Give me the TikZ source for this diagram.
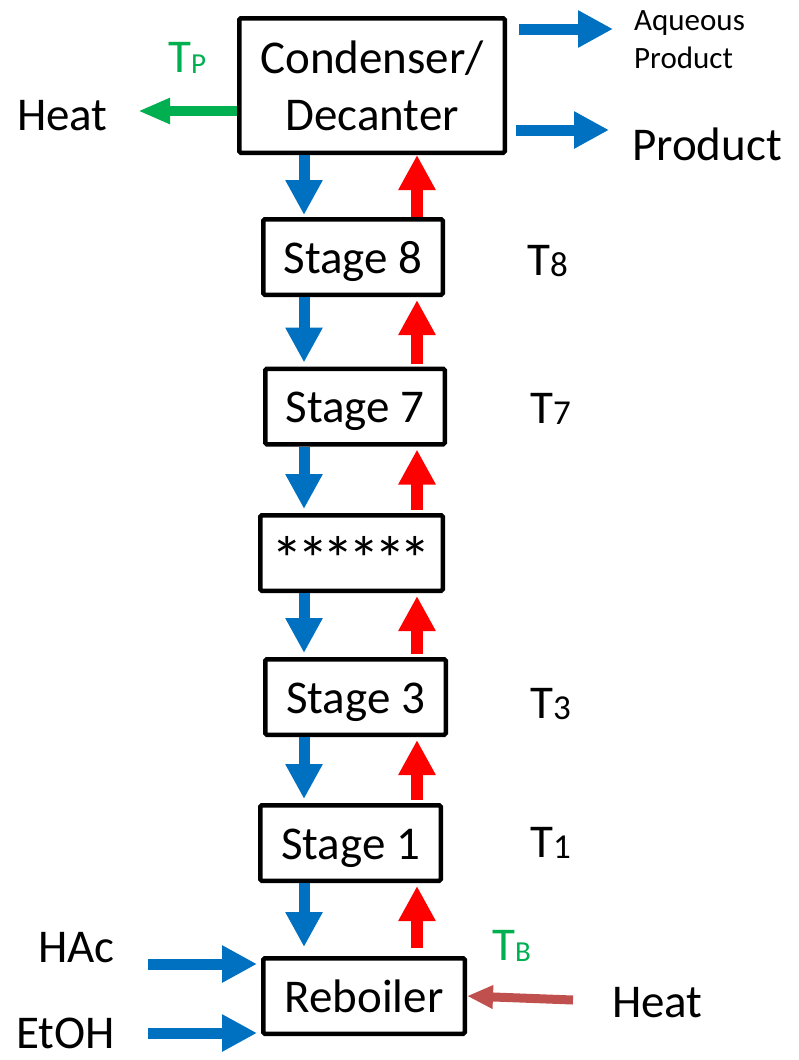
\documentclass[tikz,border=0pt]{standalone}
\usepackage{fontspec}
\usepackage{graphicx}
\setmainfont{Carlito}
\usetikzlibrary{arrows.meta}
\definecolor{flowblue}{HTML}{0070C0}
\definecolor{flowred}{HTML}{FF0000}
\definecolor{tempgreen}{HTML}{00B050}
\definecolor{heatbrown}{HTML}{C0504D}
\newcommand\mainsz{\fontsize{47}{57}\selectfont}
\newcommand\auxsz{\fontsize{31}{38}\selectfont}
\newcommand\tsub[1]{T\raisebox{-1.5pt}{\fontsize{35}{35}\selectfont #1}}
\newcommand\tlet[1]{T\raisebox{-1pt}{\fontsize{29}{29}\selectfont #1}}
\newcommand\bigstar{\raisebox{-12pt}{\scalebox{1.35}{*}}\kern-6pt}
\begin{document}
\begin{tikzpicture}[x=1pt,y=-1pt,
  unit/.style={draw, line width=4.5pt, rounded corners=1.5pt, inner sep=0pt,
    font=\mainsz, text height=38pt, text depth=6pt,
    minimum height=75.5pt, minimum width=179.5pt},
  lbl/.style={anchor=base west, inner sep=0pt, font=\mainsz},
  liquid/.style={flowblue, line width=11pt, -{Triangle[width=35pt,length=35pt]}},
  vapour/.style={flowred, line width=12pt, -{Triangle[width=35pt,length=35pt]}},
  heatout/.style={tempgreen, line width=10pt, -{Triangle[width=24pt,length=32pt]}},
  heatin/.style={heatbrown, line width=9pt, -{Triangle[width=22pt,length=26pt]}}]
\useasboundingbox (0,0) rectangle (798,1060);

% column units
\node[unit, minimum width=265.5pt, minimum height=134.5pt, text height=, text depth=,
  align=center] (cond) at (372,85.5) {Condenser/\\Decanter};
\node[unit] (s8) at (353,257) {Stage 8};
\node[unit] (s7) at (355,406.5) {Stage 7};
\node[unit, minimum width=182.5pt] (sx) at (351.5,553) {\bigstar\bigstar\bigstar\bigstar\bigstar\bigstar\kern6pt};
\node[unit, minimum width=180.5pt] (s3) at (355.5,697) {Stage 3};
\node[unit, minimum width=180.5pt] (s1) at (350.5,843) {Stage 1};
\node[unit, minimum width=201.5pt] (reb) at (364,996) {Reboiler};

% stage temperatures
\node[lbl, tempgreen] (tp) at (168,72) {\tlet{P}};
\node[lbl] (t8) at (527,275) {\tsub{8}};
\node[lbl] (t7) at (530,423) {\tsub{7}};
\node[lbl] (t3) at (530,718) {\tsub{3}};
\node[lbl] (t1) at (530,857) {\tsub{1}};
\node[lbl, tempgreen] (tb) at (492,960) {\tlet{B}};

% streams and duties
\node[lbl] (qc) at (17,130) {Heat};
\node[lbl, font=\auxsz] (aq1) at (634,30) {Aqueous};
\node[lbl, font=\auxsz] (aq2) at (634,68) {Product};
\node[lbl] (prod) at (632,160) {Product};
\node[lbl] (hac) at (38,962) {HAc};
\node[lbl] (etoh) at (16,1048) {EtOH};
\node[lbl] (qr) at (612,1017) {Heat};

% liquid down / vapour up
\coordinate (lx) at (304,0);
\coordinate (vx) at (417,0);
\draw[liquid, shorten >=2pt] (cond.south -| lx) -- (s8.north -| lx);
\draw[vapour] (s8.north -| vx) -- (cond.south -| vx);
\foreach \a/\b in {s8/s7, s7/sx, sx/s3, s3/s1}{
  \draw[liquid, shorten >=4pt] (\a.south -| lx) -- (\b.north -| lx);
  \draw[vapour, shorten <=3pt, shorten >=3pt] (\b.north -| vx) -- (\a.south -| vx);
}
\draw[liquid, shorten >=9pt] (s1.south -| lx) -- (reb.north -| lx);
\draw[vapour, shorten <=8pt, shorten >=3pt] (reb.north -| vx) -- (s1.south -| vx);

% condenser outlets
\coordinate (aqend) at (613,29);
\coordinate (prend) at (609,130);
\coordinate (qcend) at (138,111);
\draw[liquid, shorten <=12pt] (cond.east |- aqend) -- (aqend);
\draw[liquid, shorten <=9pt] (cond.east |- prend) -- (prend);
\draw[heatout] (cond.west |- qcend) -- (qcend);

% reboiler feeds and duty
\coordinate (hacst) at (148,964);
\coordinate (etst) at (148,1033);
\coordinate (qrst) at (573,1000);
\draw[liquid, shorten >=4pt] (hacst) -- (reb.west |- hacst);
\draw[liquid, shorten >=4pt] (etst) -- (reb.west |- etst);
\draw[heatin] (qrst) -- (reb.east);
\end{tikzpicture}
\end{document}
